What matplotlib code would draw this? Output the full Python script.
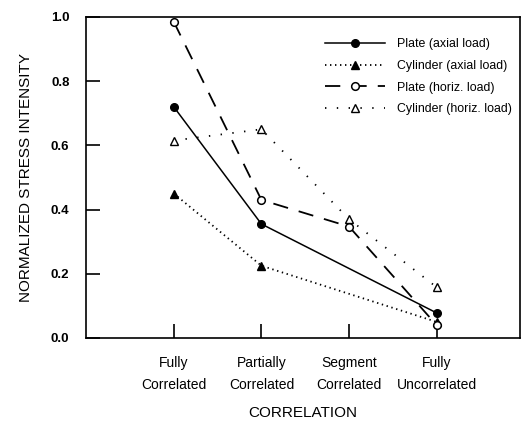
import matplotlib
matplotlib.use("Agg")
import matplotlib.pyplot as plt

plt.rcParams['font.family'] = ['Liberation Sans', 'DejaVu Sans']
plt.rcParams['lines.scale_dashes'] = False

categories = ["Fully\nCorrelated", "Partially\nCorrelated", "Segment\nCorrelated", "Fully\nUncorrelated"]

plate_axial_x = [1, 2, 4]
plate_axial_y = [0.72, 0.355, 0.078]

cyl_axial_x = [1, 2, 4]
cyl_axial_y = [0.45, 0.225, 0.05]

plate_horiz_x = [1, 2, 3, 4]
plate_horiz_y = [0.985, 0.43, 0.347, 0.04]

cyl_horiz_x = [1, 2, 3, 4]
cyl_horiz_y = [0.615, 0.65, 0.37, 0.158]

yticks = [0.0, 0.2, 0.4, 0.6, 0.8, 1.0]

fig = plt.figure(figsize=(5.22, 4.23), dpi=100)
ax = fig.add_axes([0.165, 0.201, 0.831, 0.759])

ax.plot(plate_axial_x, plate_axial_y, color='black', lw=1.1, linestyle='-',
        marker='o', markersize=5.5, markerfacecolor='black', label='Plate (axial load)')
ax.plot(cyl_axial_x, cyl_axial_y, color='black', lw=1.3, linestyle=(0, (1.0, 2.6)),
        marker='^', markersize=5.5, markerfacecolor='black', label='Cylinder (axial load)')
ax.plot(plate_horiz_x, plate_horiz_y, color='black', lw=1.3, linestyle=(0, (11, 8)),
        marker='o', markersize=5.5, markerfacecolor='white', markeredgewidth=1.1,
        label='Plate (horiz. load)')
ax.plot(cyl_horiz_x, cyl_horiz_y, color='black', lw=1.3, linestyle=(0, (1.0, 7.5)),
        marker='^', markersize=5.5, markerfacecolor='white', markeredgewidth=1.0,
        label='Cylinder (horiz. load)')

ax.set_xlim(0, 4.95)
ax.set_ylim(0, 1.0)
ax.set_xticks([1, 2, 3, 4])
ax.set_xticklabels(categories, fontsize=10, linespacing=1.75)
ax.set_yticks(yticks)
ax.set_yticklabels([f"{v:.1f}" for v in yticks], fontsize=9.5, fontweight='bold')
ax.tick_params(axis='both', direction='in', length=10, width=1.2)
ax.tick_params(axis='y', pad=12)
ax.tick_params(axis='x', pad=13)
for s in ax.spines.values():
    s.set_linewidth(1.2)

ax.set_ylabel("NORMALIZED STRESS INTENSITY", fontsize=11, labelpad=13)
ax.set_xlabel("CORRELATION", fontsize=11, labelpad=10)

leg = ax.legend(loc='upper left', bbox_to_anchor=(0.525, 0.968), frameon=False,
                fontsize=8.9, handlelength=4.85, labelspacing=0.78, handletextpad=1.0)

fig.savefig("out.png", dpi=100)
